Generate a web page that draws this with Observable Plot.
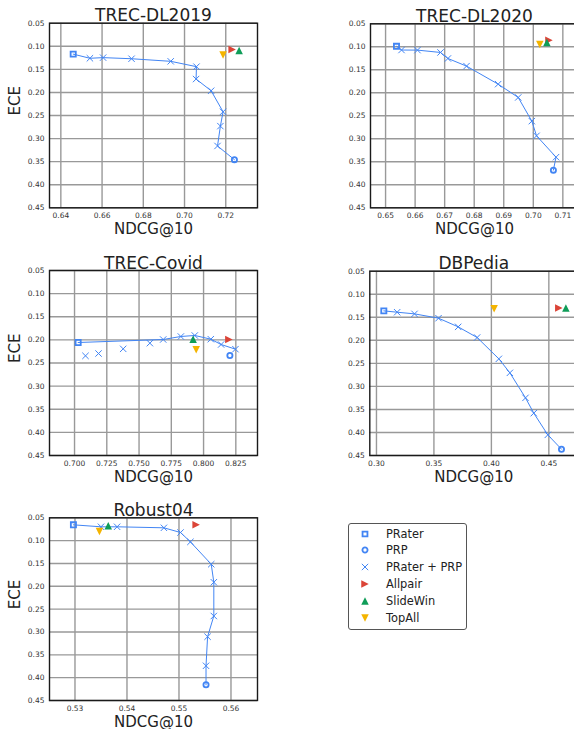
<!DOCTYPE html>
<html><head><meta charset="utf-8">
<script src="https://cdn.jsdelivr.net/npm/d3@7"></script>
<script src="https://cdn.jsdelivr.net/npm/@observablehq/plot@0.6"></script>
<style>
html,body{margin:0;padding:0;overflow:hidden;background:#fff;width:574px;height:729px;}
#root{position:relative;width:574px;height:729px;overflow:hidden;font-family:"DejaVu Sans",sans-serif;}
#legend{position:absolute;left:348px;top:523px;width:117px;height:105px;border:1px solid #555;border-radius:3px;background:#fff;}
.lrow{position:absolute;left:0;height:14px;font-size:11.4px;color:#222;line-height:14px;white-space:nowrap;}
.lrow svg{position:absolute;left:9px;top:0;}
.lrow span{position:absolute;left:37px;top:0;}
</style></head>
<body><div id="root"><div id="legend"></div></div>
<script>
// ---------- data ----------
const yTicks = [0.05,0.10,0.15,0.20,0.25,0.30,0.35,0.40,0.45];
const legendLabels = ["PRater","PRP","PRater + PRP","Allpair","SlideWin","TopAll"];

// TREC-DL2019
const dl19XTicks = [0.64,0.66,0.68,0.70,0.72];
const dl19PRater = [0.646,0.117];
const dl19PRP = [0.7242,0.3457];
const dl19ComboNDCG = [0.6541,0.6605,0.6743,0.6933,0.7058,0.7056,0.7129,0.7187,0.7174,0.7160];
const dl19ComboECE  = [0.1260,0.1246,0.1270,0.1326,0.1442,0.1710,0.1964,0.2420,0.2730,0.3160];
const dl19Allpair = [0.7231,0.1072];
const dl19SlideWin = [0.7265,0.1094];
const dl19TopAll = [0.7187,0.1188];

// TREC-DL2020
const dl20XTicks = [0.65,0.66,0.67,0.68,0.69,0.70,0.71];
const dl20PRater = [0.6537,0.0990];
const dl20PRP = [0.7068,0.3681];
const dl20ComboNDCG = [0.6554,0.6608,0.6686,0.6711,0.6774,0.6881,0.6949,0.6995,0.7011,0.7077];
const dl20ComboECE  = [0.1070,0.1072,0.1123,0.1254,0.1420,0.1812,0.2101,0.2616,0.2935,0.3399];
const dl20Allpair = [0.7053,0.0855];
const dl20SlideWin = [0.7046,0.0905];
const dl20TopAll = [0.7022,0.0950];

// TREC-Covid
const covidXTicks = [0.700,0.725,0.750,0.775,0.800,0.825];
const covidPRater = [0.7028,0.2057];
const covidPRP = [0.8204,0.2338];
const covidComboNDCG = [0.7085,0.7186,0.7377,0.7584,0.7687,0.7824,0.7932,0.8056,0.8136,0.8247];
const covidComboECE  = [0.2345,0.2295,0.2194,0.2071,0.1992,0.1927,0.1905,0.1985,0.2100,0.2201];
const covidOffLine = [0,1,2,3];
const covidAllpair = [0.8196,0.1994];
const covidSlideWin = [0.7919,0.1985];
const covidTopAll = [0.7943,0.2215];

// DBPedia
const dbpXTicks = [0.30,0.35,0.40,0.45];
const dbpPRater = [0.3064,0.1361];
const dbpPRP = [0.4610,0.4363];
const dbpComboNDCG = [0.3180,0.3331,0.3540,0.3711,0.3876,0.4065,0.4161,0.4297,0.4369,0.4491];
const dbpComboECE  = [0.1390,0.1426,0.1520,0.1708,0.1939,0.2402,0.2706,0.3249,0.3581,0.4052];
const dbpAllpair = [0.4587,0.1296];
const dbpSlideWin = [0.4648,0.1300];
const dbpTopAll = [0.4024,0.1317];

// Robust04
const robXTicks = [0.53,0.54,0.55,0.56];
const robPRater = [0.5297,0.0654];
const robPRP = [0.5552,0.4156];
const robComboNDCG = [0.5350,0.5381,0.5471,0.5503,0.5522,0.5562,0.5567,0.5567,0.5555,0.5552];
const robComboECE  = [0.0697,0.0697,0.0719,0.0822,0.1027,0.1516,0.1911,0.2650,0.3103,0.3740];
const robAllpair = [0.5533,0.0654];
const robSlideWin = [0.5364,0.0675];
const robTopAll = [0.5347,0.0800];

// ---------- style ----------
const BLUE="#4285F4", RED="#DB4437", GREEN="#0F9D58", YELLOW="#F4B400";
function triSym(dir){
  return {draw(ctx,size){
    const s = Math.sqrt(size/Math.PI)*1.25;
    if(dir==="up"){ctx.moveTo(0,-s);ctx.lineTo(s,s);ctx.lineTo(-s,s);}
    else if(dir==="down"){ctx.moveTo(0,s);ctx.lineTo(s,-s);ctx.lineTo(-s,-s);}
    else {ctx.moveTo(s,0);ctx.lineTo(-s,s);ctx.lineTo(-s,-s);}
    ctx.closePath();
  }};
}
const root = document.getElementById("root");

function panel(cfg){
  const combo = cfg.comboX.map((x,i)=>({x, y:cfg.comboY[i], i}));
  const pt = a => ({x:a[0], y:a[1]});
  const off = cfg.offLine || [];
  const lineData = [pt(cfg.prater), ...combo.filter(d=>!off.includes(d.i))];
  if (cfg.prpLinked !== false) lineData.push(pt(cfg.prp));
  const marks = [
      Plot.ruleX(cfg.xTicks, {x: d=>d, stroke:"#999", strokeWidth:1.4}),
      Plot.ruleY(yTicks, {y: d=>d, stroke:"#999", strokeWidth:1.4}),
      Plot.frame({stroke:"#1a1a1a", strokeWidth:1.4}),
      Plot.axisX(cfg.xTicks, {tickSize:0, tickPadding:5, tickFormat: d3.format(cfg.xFmt), fontSize:7.5, label:null}),
      Plot.axisY(yTicks, {tickSize:0, tickPadding:5, tickFormat: d3.format(".2f"), fontSize:7.5, label:null}),
      Plot.line(lineData, {x:"x", y:"y", stroke:BLUE, strokeWidth:1}),
      Plot.dot(combo, {x:"x", y:"y", symbol:"times", r:3, stroke:BLUE, strokeWidth:1}),
      Plot.dot([pt(cfg.prater)], {x:"x", y:"y", symbol:"square", r:2.9, stroke:BLUE, strokeWidth:1.8, fill:"none"}),
      Plot.dot([pt(cfg.prp)], {x:"x", y:"y", symbol:"circle", r:2.6, stroke:BLUE, strokeWidth:1.8, fill:"none"}),
      Plot.dot([pt(cfg.allpair)], {x:"x", y:"y", symbol:triSym("right"), r:3, fill:RED}),
      Plot.dot([pt(cfg.slidewin)], {x:"x", y:"y", symbol:triSym("up"), r:3, fill:GREEN}),
      Plot.dot([pt(cfg.topall)], {x:"x", y:"y", symbol:triSym("down"), r:3, fill:YELLOW}),
      Plot.text([cfg.title], {text:d=>d, frameAnchor:"top", lineAnchor:"bottom", dy:-2, fontSize:17, fill:"#222"}),
      Plot.text(["NDCG@10"], {text:d=>d, frameAnchor:"bottom", lineAnchor:"bottom", dy:26, fontSize:15, fill:"#222"})
  ];
  if (cfg.showECE) marks.push(Plot.text(["ECE"], {text:d=>d, frameAnchor:"left", rotate:-90, dx:-34, fontSize:15, fill:"#222"}));
  const svg = Plot.plot({
    width: cfg.w, height: cfg.h,
    marginLeft: cfg.mL, marginRight: cfg.mR, marginTop: cfg.mT, marginBottom: cfg.mB,
    x: {type:"linear", domain: cfg.xDomain},
    y: {type:"linear", domain: [0.05,0.45], reverse: true},
    style: {fontFamily:'"DejaVu Sans", sans-serif', background:"transparent", overflow:"visible", color:"#333"},
    marks
  });
  svg.style.position = "absolute";
  svg.style.left = cfg.left + "px";
  svg.style.top = cfg.top + "px";
  root.appendChild(svg);
}

panel({left:0, top:0, w:287, h:240, mL:49, mR:30, mT:22.7, mB:32.7, showECE:true,
  xDomain:[0.6345,0.7354], xTicks:dl19XTicks, xFmt:".2f", title:"TREC-DL2019",
  prater:dl19PRater, prp:dl19PRP, comboX:dl19ComboNDCG, comboY:dl19ComboECE,
  allpair:dl19Allpair, slidewin:dl19SlideWin, topall:dl19TopAll});
panel({left:287, top:0, w:295, h:240, mL:83, mR:4, mT:23.3, mB:32.7, showECE:false,
  xDomain:[0.6449,0.7153], xTicks:dl20XTicks, xFmt:".2f", title:"TREC-DL2020",
  prater:dl20PRater, prp:dl20PRP, comboX:dl20ComboNDCG, comboY:dl20ComboECE,
  allpair:dl20Allpair, slidewin:dl20SlideWin, topall:dl20TopAll});
panel({left:0, top:245, w:287, h:240, mL:49, mR:30, mT:25, mB:30, showECE:true,
  xDomain:[0.6806,0.8418], xTicks:covidXTicks, xFmt:".3f", title:"TREC-Covid",
  prater:covidPRater, prp:covidPRP, comboX:covidComboNDCG, comboY:covidComboECE,
  offLine:covidOffLine, prpLinked:false,
  allpair:covidAllpair, slidewin:covidSlideWin, topall:covidTopAll});
panel({left:287, top:245, w:295, h:240, mL:82.3, mR:4.7, mT:25.7, mB:30, showECE:false,
  xDomain:[0.2942,0.4752], xTicks:dbpXTicks, xFmt:".2f", title:"DBPedia",
  prater:dbpPRater, prp:dbpPRP, comboX:dbpComboNDCG, comboY:dbpComboECE,
  allpair:dbpAllpair, slidewin:dbpSlideWin, topall:dbpTopAll});
panel({left:0, top:485, w:287, h:244, mL:49, mR:30, mT:32.3, mB:29, showECE:true,
  xDomain:[0.5251,0.5651], xTicks:robXTicks, xFmt:".2f", title:"Robust04",
  prater:robPRater, prp:robPRP, comboX:robComboNDCG, comboY:robComboECE,
  allpair:robAllpair, slidewin:robSlideWin, topall:robTopAll});

// ---------- legend ----------
const legend = document.getElementById("legend");
const legendSyms = [
  {sym:d3.symbolSquare, size:24, stroke:BLUE, fill:"none", sw:1.8},
  {sym:d3.symbolCircle, size:21, stroke:BLUE, fill:"none", sw:1.8},
  {sym:d3.symbolTimes, size:28, stroke:BLUE, fill:"none", sw:1},
  {sym:triSym("right"), size:28, stroke:"none", fill:RED, sw:0},
  {sym:triSym("up"), size:28, stroke:"none", fill:GREEN, sw:0},
  {sym:triSym("down"), size:28, stroke:"none", fill:YELLOW, sw:0}
];
legendLabels.forEach((lab,i)=>{
  const row = document.createElement("div");
  row.className = "lrow";
  row.style.top = (2.5 + i*16.9) + "px";
  const s = legendSyms[i];
  const svgNS = "http://www.w3.org/2000/svg";
  const sv = document.createElementNS(svgNS,"svg");
  sv.setAttribute("width",14); sv.setAttribute("height",14);
  const p = document.createElementNS(svgNS,"path");
  p.setAttribute("d", d3.symbol(s.sym, s.size)());
  p.setAttribute("transform","translate(7,7)");
  p.setAttribute("fill", s.fill);
  p.setAttribute("stroke", s.stroke);
  p.setAttribute("stroke-width", s.sw);
  sv.appendChild(p);
  row.appendChild(sv);
  const sp = document.createElement("span");
  sp.textContent = lab;
  row.appendChild(sp);
  legend.appendChild(row);
});
</script>
</body></html>
